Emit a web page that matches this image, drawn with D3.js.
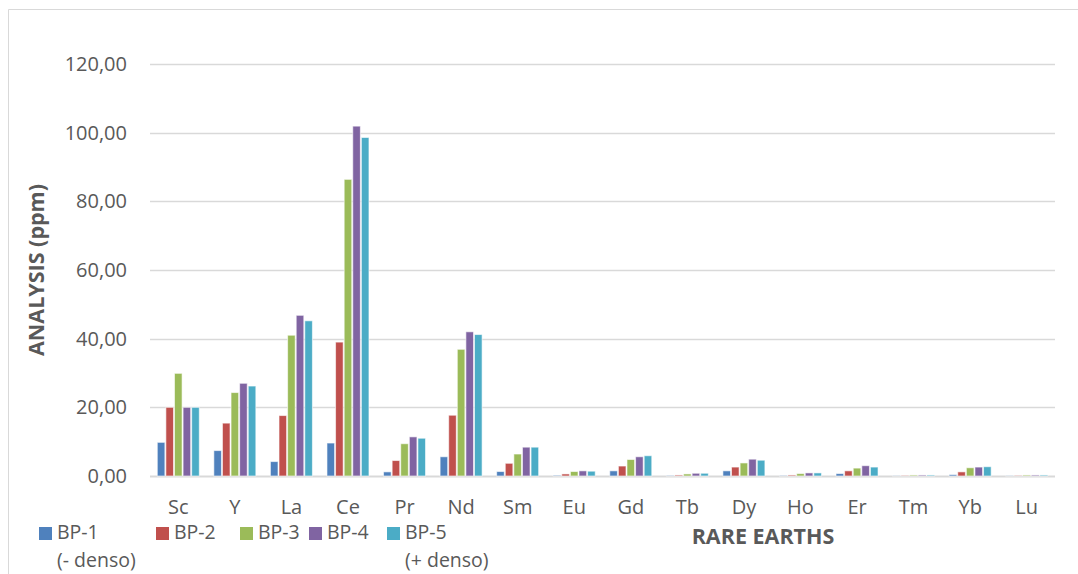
<!DOCTYPE html>
<html><head><meta charset="utf-8">
<script src="https://cdn.jsdelivr.net/npm/d3@7"></script>
<style>
body{margin:0;background:#fff;}
text{font-family:"Open Sans","Liberation Sans",sans-serif;fill:#595959;}
</style></head>
<body><svg id="c" width="1078" height="574"></svg>
<script>
const categories = ["Sc","Y","La","Ce","Pr","Nd","Sm","Eu","Gd","Tb","Dy","Ho","Er","Tm","Yb","Lu"];
const seriesNames = ["BP-1","BP-2","BP-3","BP-4","BP-5"];
const legendSub = ["(- denso)","","","","(+ denso)"];
const bp1 = [9.8, 7.4, 4.2, 9.6, 1.2, 5.6, 1.3, 0.2, 1.5, 0.1, 1.5, 0.1, 0.7, 0.05, 0.4, 0.05];
const bp2 = [20.0, 15.4, 17.6, 39.0, 4.5, 17.7, 3.7, 0.6, 2.9, 0.3, 2.6, 0.3, 1.5, 0.1, 1.2, 0.1];
const bp3 = [29.9, 24.3, 41.0, 86.4, 9.4, 36.9, 6.4, 1.3, 4.8, 0.6, 3.8, 0.7, 2.3, 0.3, 2.4, 0.3];
const bp4 = [20.0, 27.0, 46.8, 101.9, 11.4, 42.0, 8.4, 1.5, 5.6, 0.8, 4.9, 0.9, 3.0, 0.3, 2.6, 0.3];
const bp5 = [20.0, 26.2, 45.2, 98.6, 11.0, 41.2, 8.4, 1.4, 5.9, 0.8, 4.6, 0.9, 2.6, 0.3, 2.7, 0.3];
const yTicks = [0, 20, 40, 60, 80, 100, 120];
const colors = ["#4F81BD","#C0504D","#9BBB59","#8064A2","#4BACC6"];
const values = [bp1, bp2, bp3, bp4, bp5];

(function(){
const svg = d3.select("#c");
svg.append("path").attr("d","M8.5,574 L8.5,9.5 L1078,9.5").attr("fill","none").attr("stroke","#d9d9d9").attr("stroke-width",1);

const pLeft = 150, pRight = 1055, pTop = 64, pBottom = 476;
const y = d3.scaleLinear().domain([0,120]).range([pBottom, pTop]);
const x0 = d3.scaleBand().domain(categories).range([pLeft, pRight]).paddingInner(0.24).paddingOuter(0.12);
const x1 = d3.scaleBand().domain(seriesNames).range([0, x0.bandwidth()]).padding(0);

svg.append("g").selectAll("line").data(yTicks).join("line")
  .attr("x1", pLeft).attr("x2", pRight)
  .attr("y1", d => Math.round(y(d)) + 0.5).attr("y2", d => Math.round(y(d)) + 0.5)
  .attr("stroke", "#d9d9d9").attr("stroke-width", d => d === 0 ? 2 : 1.3);

const fmt = d => d.toFixed(2).replace(".", ",");
const yAxis = d3.axisLeft(y).tickValues(yTicks).tickFormat(fmt).tickSize(0).tickPadding(0);
const ga = svg.append("g").attr("transform", `translate(127,0)`).call(yAxis);
ga.select(".domain").remove();
ga.selectAll("text").style("font-size","20px").style("font-family","'Open Sans',sans-serif").attr("fill","#595959");

const g = svg.append("g");
seriesNames.forEach((s, si) => {
  g.append("g").selectAll("rect").data(categories).join("rect")
    .attr("x", c => x0(c) + x1(s) + 0.5)
    .attr("width", x1.bandwidth() - 1)
    .attr("y", (c, i) => y(values[si][i]))
    .attr("height", (c, i) => y(0) - y(values[si][i]))
    .attr("fill", colors[si])
    .attr("stroke", "#ffffff").attr("stroke-opacity", 0.6).attr("stroke-width", 1);
});

const xAxis = d3.axisBottom(x0).tickSize(0).tickPadding(0);
const gx = svg.append("g").attr("transform", `translate(0,${pBottom + 24})`).call(xAxis);
gx.select(".domain").remove();
gx.selectAll("text").style("font-size","20px").style("font-family","'Open Sans',sans-serif").attr("fill","#595959");

svg.append("text").attr("x", 763).attr("y", 544).attr("text-anchor","middle")
  .style("font-size","21.5px").style("font-weight","bold").text("RARE EARTHS");
svg.append("text").attr("transform","translate(44,270) rotate(-90)").attr("text-anchor","middle")
  .style("font-size","21.5px").style("font-weight","bold").text("ANALYSIS (ppm)");

const legendX = [39, 156, 240, 309, 387];
const lg = svg.append("g");
seriesNames.forEach((s, i) => {
  lg.append("rect").attr("x", legendX[i]).attr("y", 527).attr("width", 13).attr("height", 13).attr("fill", colors[i]);
  lg.append("text").attr("x", legendX[i] + 18).attr("y", 539).style("font-size","19.5px").text(s);
  if (legendSub[i]) lg.append("text").attr("x", legendX[i] + 18).attr("y", 567).style("font-size","19.5px").text(legendSub[i]);
});
})();
</script></body></html>
